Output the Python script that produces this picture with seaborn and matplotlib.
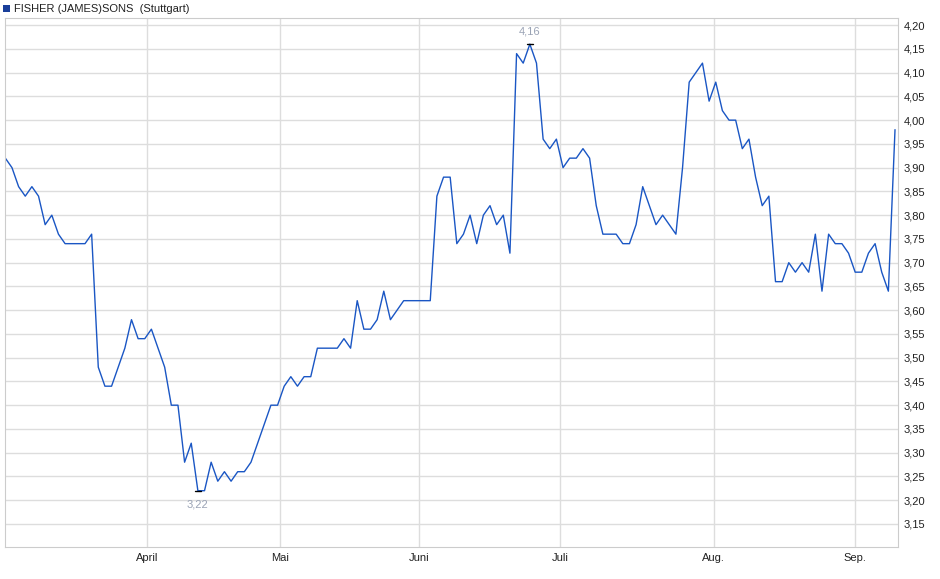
import numpy as np
import pandas as pd
import matplotlib
matplotlib.use("Agg")
import matplotlib.pyplot as plt
import matplotlib.ticker as mticker
import seaborn as sns

title = "FISHER (JAMES)SONS  (Stuttgart)"
prices = [
    3.92, 3.90, 3.86, 3.84, 3.86, 3.84, 3.78, 3.80, 3.76, 3.74, 3.74, 3.74, 3.74, 3.76,
    3.48, 3.44, 3.44, 3.48, 3.52, 3.58, 3.54, 3.54, 3.56, 3.52, 3.48, 3.40, 3.40, 3.28,
    3.32, 3.22, 3.22, 3.28, 3.24, 3.26, 3.24, 3.26, 3.26, 3.28, 3.32, 3.36, 3.40, 3.40,
    3.44, 3.46, 3.44, 3.46, 3.46, 3.52, 3.52, 3.52, 3.52, 3.54, 3.52, 3.62, 3.56, 3.56,
    3.58, 3.64, 3.58, 3.60, 3.62, 3.62, 3.62, 3.62, 3.62, 3.84, 3.88, 3.88, 3.74, 3.76,
    3.80, 3.74, 3.80, 3.82, 3.78, 3.80, 3.72, 4.14, 4.12, 4.16, 4.12, 3.96, 3.94, 3.96,
    3.90, 3.92, 3.92, 3.94, 3.92, 3.82, 3.76, 3.76, 3.76, 3.74, 3.74, 3.78, 3.86, 3.82,
    3.78, 3.80, 3.78, 3.76, 3.90, 4.08, 4.10, 4.12, 4.04, 4.08, 4.02, 4.00, 4.00, 3.94,
    3.96, 3.88, 3.82, 3.84, 3.66, 3.66, 3.70, 3.68, 3.70, 3.68, 3.76, 3.64, 3.76, 3.74,
    3.74, 3.72, 3.68, 3.68, 3.72, 3.74, 3.68, 3.64, 3.98,
]
# trading-day index of the first session of each month
month_starts = [21.4, 41.4, 62.3, 83.6, 106.7, 127.9]
month_labels = ["April", "Mai", "Juni", "Juli", "Aug.", "Sep."]
df = pd.DataFrame({"day": np.arange(len(prices)), "price": prices})

sns.set_style("white")
plt.rcParams["font.family"] = ["Liberation Sans", "DejaVu Sans"]
fig = plt.figure(figsize=(9.4, 5.79), dpi=100)
ax = fig.add_axes([5 / 940, 1 - 547 / 579, 893 / 940, 529 / 579])

line_color = "#1a56c4"
sns.lineplot(data=df, x="day", y="price", ax=ax, color=line_color, lw=1)

ax.set_ylim(3.1015, 4.215)
ax.set_xlim(-0.05, len(prices) - 1 + 0.45)
ax.yaxis.set_major_locator(mticker.MultipleLocator(0.05))
ax.yaxis.set_major_formatter(mticker.FuncFormatter(lambda v, p: f"{v:.2f}".replace(".", ",")))
ax.yaxis.tick_right()
ax.set_xticks(month_starts)
ax.set_xticklabels(month_labels)
ax.tick_params(labelsize=8, length=0, colors="#222222", pad=4)
ax.grid(True, color="#dddddd", lw=1)
ax.set_xlabel("")
ax.set_ylabel("")
for s in ax.spines.values():
    s.set_color("#cccccc")

# max/min labels
for idx, off in [(int(np.argmax(prices)), 9), (int(np.argmin(prices)), -10)]:
    v = prices[idx]
    ax.plot([idx - 0.4, idx + 0.4], [v, v], color="black", lw=1)
    ax.annotate(f"{v:.2f}".replace(".", ","), (idx, v), xytext=(0, off), textcoords="offset points",
                ha="center", va="center", fontsize=8, color="#9aa3b5")

fig.patches.append(plt.Rectangle((3 / 940, 1 - 12 / 579), 7 / 940, 7 / 579, transform=fig.transFigure,
                                 facecolor="#1a3f9a", edgecolor="none"))
fig.text(14 / 940, 1 - 8.5 / 579, title, fontsize=8, va="center", color="#222222")

fig.savefig("out.png", dpi=100)
